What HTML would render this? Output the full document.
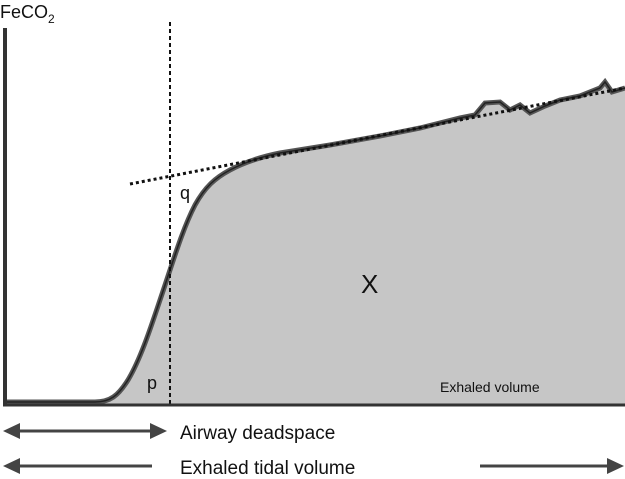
<!DOCTYPE html>
<html><head><style>body{margin:0;background:#fff}svg{display:block}text{font-family:"Liberation Sans",sans-serif;fill:#111}</style></head><body>
<svg width="625" height="479" viewBox="0 0 625 479">
<path d="M5,402 L95,402 C110,402 118,396 128,380 C140,360 150,330 160,300 C172,265 182,230 195,205 C205,187 215,178 230,170 C245,162 260,157 280,153 L330,145 L380,136 L420,128 L460,118 L475,115 L485,103 L500,102 L510,110 L520,105 L530,113 L545,106 L560,100 L580,96 L600,88 L605,82 L612,92 L625,88 L625,404 L5,404 Z" fill="#c6c6c6"/>
<path d="M5,402 L95,402 C110,402 118,396 128,380 C140,360 150,330 160,300 C172,265 182,230 195,205 C205,187 215,178 230,170 C245,162 260,157 280,153 L330,145 L380,136 L420,128 L460,118 L475,115 L485,103 L500,102 L510,110 L520,105 L530,113 L545,106 L560,100 L580,96 L600,88 L605,82 L612,92 L625,88" fill="none" stroke="#555" stroke-width="5"/>
<path d="M5,402 L95,402 C110,402 118,396 128,380 C140,360 150,330 160,300 C172,265 182,230 195,205 C205,187 215,178 230,170 C245,162 260,157 280,153 L330,145 L380,136 L420,128 L460,118 L475,115 L485,103 L500,102 L510,110 L520,105 L530,113 L545,106 L560,100 L580,96 L600,88 L605,82 L612,92 L625,88" fill="none" stroke="#222" stroke-width="1.5"/>
<line x1="130" y1="184" x2="625" y2="88" stroke="#111" stroke-width="3" stroke-dasharray="3,3"/>
<line x1="170" y1="22" x2="170" y2="404" stroke="#111" stroke-width="2" stroke-dasharray="4,3"/>
<line x1="5" y1="28" x2="5" y2="406" stroke="#333" stroke-width="4"/>
<line x1="3" y1="405" x2="625" y2="405" stroke="#333" stroke-width="3"/>
<text x="0" y="18" font-size="18">FeCO<tspan font-size="12" dy="5">2</tspan></text>
<text x="180" y="199" font-size="18">q</text>
<text x="147" y="389" font-size="18">p</text>
<text x="361" y="293" font-size="26">X</text>
<text x="440" y="392" font-size="14">Exhaled volume</text>
<g fill="#444" stroke="#444">
<line x1="18" y1="431" x2="155" y2="431" stroke-width="3"/>
<polygon points="3,431 20,423 20,439" stroke="none"/>
<polygon points="167,431 150,423 150,439" stroke="none"/>
<line x1="18" y1="466" x2="152" y2="466" stroke-width="3"/>
<polygon points="3,466 20,458 20,474" stroke="none"/>
<line x1="480" y1="466" x2="610" y2="466" stroke-width="3"/>
<polygon points="624,466 607,458 607,474" stroke="none"/>
</g>
<text x="180" y="439" font-size="19">Airway deadspace</text>
<text x="180" y="474" font-size="19">Exhaled tidal volume</text>
</svg>
</body></html>
